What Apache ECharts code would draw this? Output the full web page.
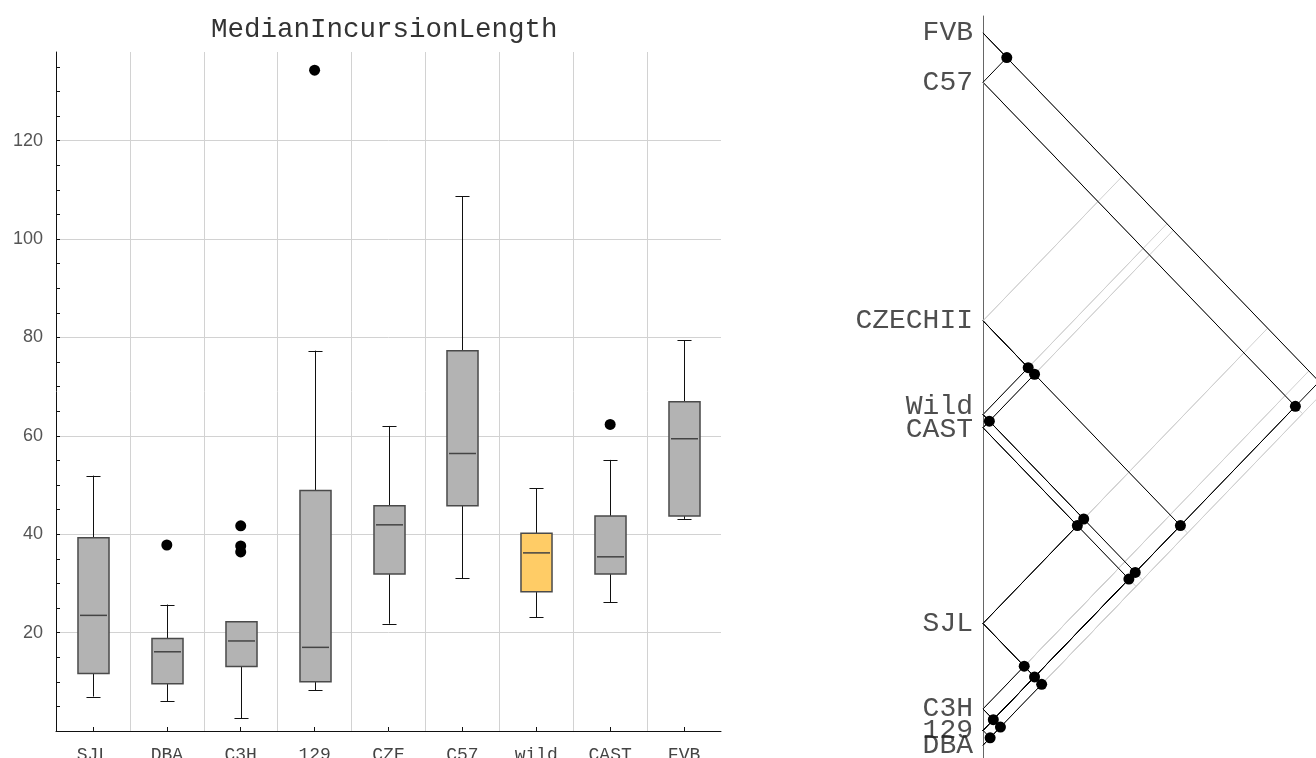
<!DOCTYPE html>
<html><head><meta charset="utf-8">
<script src="https://cdn.jsdelivr.net/npm/echarts@6/dist/echarts.min.js"></script>
<style>html,body{margin:0;padding:0;background:#fff}#c{width:1316px;height:758px}</style>
</head><body><div id="c"></div>
<script>
// ---- box plot data (left panel) ----
const categories  = ['SJL', 'DBA', 'C3H', '129', 'CZE', 'C57', 'wild', 'CAST', 'FVB'];
const whiskerLow  = [7.0, 6.0, 2.6, 8.3, 21.8, 31.0, 23.1, 26.2, 43.1];
const quartile1   = [11.7, 9.6, 13.1, 10.0, 31.9, 45.8, 28.3, 31.9, 43.7];
const medians     = [23.5, 16.1, 18.3, 17.0, 41.9, 56.4, 36.2, 35.4, 59.4];
const quartile3   = [39.3, 18.8, 22.2, 48.9, 45.8, 77.3, 40.2, 43.7, 66.9];
const whiskerHigh = [51.9, 25.7, 22.2, 77.3, 62.0, 108.7, 49.3, 55.1, 79.4];
const outlierCategories = ['DBA', 'C3H', 'C3H', 'C3H', '129', 'CAST'];
const outlierValues     = [37.8, 41.7, 37.6, 36.4, 134.3, 62.3];
const yTickLabels = [20, 40, 60, 80, 100, 120];
const yTickMarks  = [5, 10, 15, 20, 25, 30, 35, 40, 45, 50, 55, 60, 65, 70, 75, 80, 85, 90, 95, 100, 105, 110, 115, 120, 125, 130, 135];
const titleText = 'MedianIncursionLength';

// ---- comparison diagram data (right panel) ----
const diagramLabels = ['FVB', 'C57', 'CZECHII', 'Wild', 'CAST', 'SJL', 'C3H', '129', 'DBA'];
const diagramValues = [59.4, 56.4, 41.9, 36.2, 35.4, 23.5, 18.3, 17.0, 16.1];
const nonSignificantPairs = [
  ['FVB', 'C57'], ['FVB', '129'], ['C57', '129'],
  ['CZECHII', 'Wild'], ['CZECHII', 'CAST'], ['CZECHII', '129'],
  ['Wild', 'CAST'], ['Wild', 'SJL'], ['CAST', 'SJL'],
  ['Wild', '129'], ['CAST', '129'],
  ['SJL', 'C3H'], ['SJL', '129'], ['SJL', 'DBA'],
  ['C3H', '129'], ['C3H', 'DBA'], ['129', 'DBA']
];

// ---- build ----
const highlightCategory = 'wild';
const labelShift = { Wild: -8, CAST: 2 };
const boxData = categories.map((c, i) => [i, whiskerLow[i], quartile1[i], medians[i], quartile3[i], whiskerHigh[i]]);
const outlierData = outlierCategories.map((c, i) => [c, outlierValues[i]]);

const isNonSig = (a, b) => nonSignificantPairs.some(p => (p[0] === a && p[1] === b) || (p[0] === b && p[1] === a));
const sigLines = [], nonSigLines = [], dots = [];
for (let i = 0; i < diagramLabels.length; i++) {
  for (let j = i + 1; j < diagramLabels.length; j++) {
    const a = diagramValues[i], b = diagramValues[j];
    const vx = Math.abs(a - b) / 2, vy = (a + b) / 2;
    const item = { coords: [[0, a], [vx, vy], [0, b]] };
    if (isNonSig(diagramLabels[i], diagramLabels[j])) { nonSigLines.push(item); dots.push([vx, vy]); }
    else sigLines.push(item);
  }
}
const labelData = diagramLabels.map((n, i) => ({
  value: [0, diagramValues[i], n],
  label: { offset: [0, labelShift[n] || 0] }
}));

function renderBox(params, api) {
  const idx = api.value(0);
  const lo = api.coord([idx, api.value(1)]);
  const q1 = api.coord([idx, api.value(2)]);
  const md = api.coord([idx, api.value(3)]);
  const q3 = api.coord([idx, api.value(4)]);
  const hi = api.coord([idx, api.value(5)]);
  const band = api.size([1, 0])[0];
  const bw = band * 0.42, cw = band * 0.19;
  const x = Math.round(lo[0]) + 0.5;
  const fill = categories[idx] === highlightCategory ? '#ffcc66' : '#b3b3b3';
  const ws = { stroke: '#111', lineWidth: 1 };
  return {
    type: 'group',
    children: [
      { type: 'line', shape: { x1: x, y1: lo[1], x2: x, y2: q1[1] }, style: ws },
      { type: 'line', shape: { x1: x, y1: q3[1], x2: x, y2: hi[1] }, style: ws },
      { type: 'line', shape: { x1: x - cw / 2, y1: Math.round(lo[1]) + 0.5, x2: x + cw / 2, y2: Math.round(lo[1]) + 0.5 }, style: ws },
      { type: 'line', shape: { x1: x - cw / 2, y1: Math.round(hi[1]) + 0.5, x2: x + cw / 2, y2: Math.round(hi[1]) + 0.5 }, style: ws },
      { type: 'rect', shape: { x: x - bw / 2, y: q3[1], width: bw, height: q1[1] - q3[1] },
        style: { fill: fill, stroke: '#4a4a4a', lineWidth: 1.5 } },
      { type: 'line', shape: { x1: x - bw / 2 + 2, y1: md[1], x2: x + bw / 2 - 2, y2: md[1] },
        style: { stroke: '#444', lineWidth: 1.5 } }
    ]
  };
}

const chart = echarts.init(document.getElementById('c'), null, { renderer: 'canvas' });
chart.setOption({
  animation: false,
  backgroundColor: '#fff',
  title: {
    text: titleText, left: 206, top: 11,
    textStyle: { fontFamily: 'Liberation Mono', fontSize: 27.5, fontWeight: 'normal', color: '#333' }
  },
  grid: [
    { left: 56, top: 52, width: 665, height: 679, outerBoundsMode: 'none' },
    { left: 983, top: 16, width: 333, height: 742, outerBoundsMode: 'none' }
  ],
  xAxis: [
    {
      type: 'category', gridIndex: 0, data: categories, boundaryGap: true,
      axisLine: { lineStyle: { color: '#111', width: 1 } },
      axisTick: { show: true, inside: true, alignWithLabel: true, length: 4, lineStyle: { color: '#111' } },
      axisLabel: { margin: 15, fontFamily: 'Liberation Mono', fontSize: 18, color: '#444' },
      splitLine: { show: true, showMinLine: false, showMaxLine: false, lineStyle: { color: '#d2d2d2', width: 1 } }
    },
    { type: 'value', gridIndex: 1, min: 0, max: 21.0, show: false }
  ],
  yAxis: [
    {
      type: 'value', gridIndex: 0, min: 0, max: 138, interval: 20,
      axisLine: { show: true, lineStyle: { color: '#111', width: 1 } },
      axisTick: { show: false },
      axisLabel: {
        margin: 13, fontFamily: 'Liberation Sans', fontSize: 18, color: '#555',
        formatter: v => (yTickLabels.indexOf(v) >= 0 ? String(v) : '')
      },
      splitLine: { show: true, showMinLine: false, showMaxLine: false, lineStyle: { color: '#d2d2d2', width: 1 } }
    },
    {
      type: 'value', gridIndex: 1, min: 15.32, max: 60.43,
      axisLine: { show: true, lineStyle: { color: '#666', width: 1 } },
      axisTick: { show: false }, axisLabel: { show: false }, splitLine: { show: false }
    },
    {
      type: 'value', gridIndex: 0, min: 0, max: 138, position: 'left', offset: 0,
      axisLine: { show: false },
      axisTick: { show: true, inside: true, length: 4, customValues: yTickMarks, lineStyle: { color: '#111' } },
      axisLabel: { show: false }, splitLine: { show: false }
    }
  ],
  series: [
    {
      type: 'custom', xAxisIndex: 0, yAxisIndex: 0, data: boxData,
      encode: { x: 0, y: [1, 2, 3, 4, 5] }, renderItem: renderBox, z: 3
    },
    {
      type: 'scatter', xAxisIndex: 0, yAxisIndex: 0, data: outlierData,
      symbolSize: 11, itemStyle: { color: '#000', opacity: 1 }, z: 4
    },
    {
      type: 'lines', coordinateSystem: 'cartesian2d', xAxisIndex: 1, yAxisIndex: 1,
      polyline: true, data: sigLines, silent: true,
      lineStyle: { color: '#d0d0d0', width: 1, opacity: 1 }, z: 2
    },
    {
      type: 'lines', coordinateSystem: 'cartesian2d', xAxisIndex: 1, yAxisIndex: 1,
      polyline: true, data: nonSigLines, silent: true,
      lineStyle: { color: '#000', width: 1, opacity: 1 }, z: 3
    },
    {
      type: 'scatter', xAxisIndex: 1, yAxisIndex: 1, data: dots,
      symbolSize: 11, itemStyle: { color: '#000', opacity: 1 }, z: 4
    },
    {
      type: 'scatter', xAxisIndex: 1, yAxisIndex: 1, data: labelData, clip: false,
      symbolSize: 0, silent: true,
      label: {
        show: true, position: 'left', distance: 10, formatter: p => p.value[2],
        fontFamily: 'Liberation Mono', fontSize: 28, color: '#222'
      }, z: 5
    }
  ]
});
</script></body></html>
